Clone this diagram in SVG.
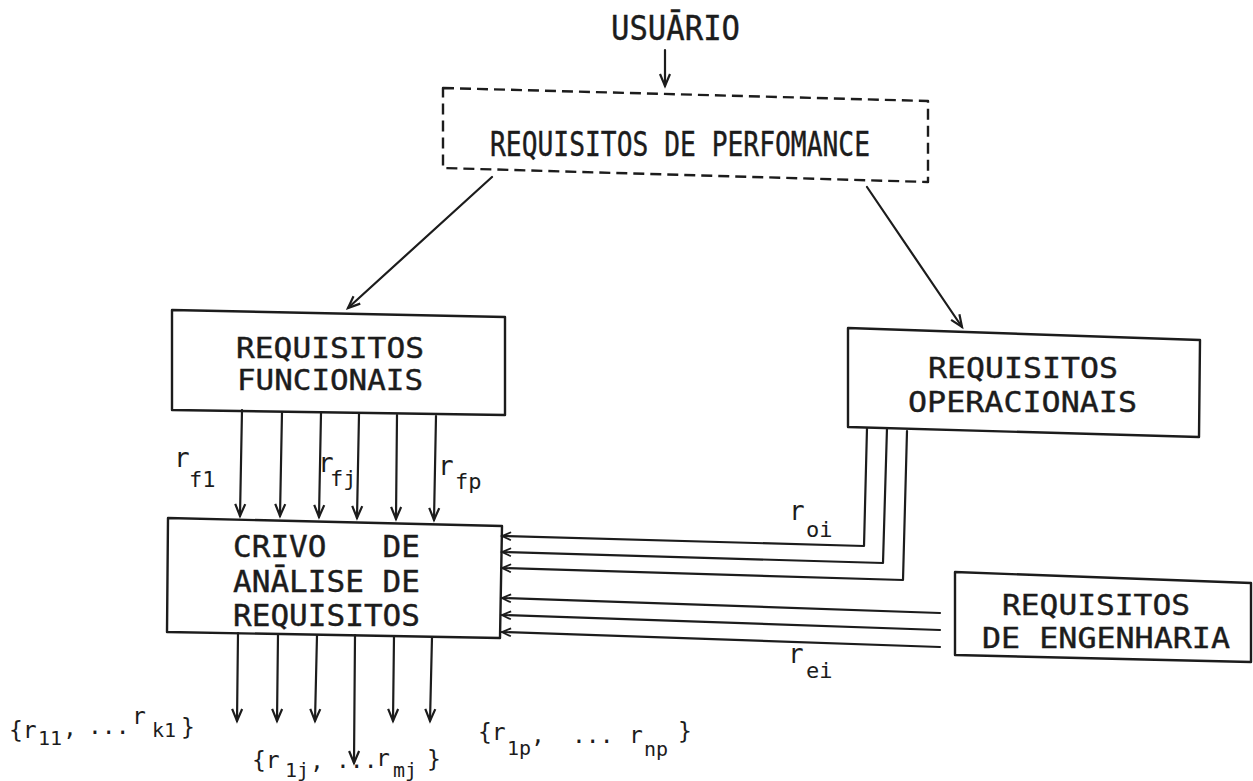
<svg xmlns="http://www.w3.org/2000/svg" width="1253" height="781" viewBox="0 0 1253 781">
<defs>
<style>
.bg{fill:#ffffff}
.box{fill:none;stroke:#1c1c1c;stroke-width:2.4;stroke-linejoin:round}
.dash{stroke-dasharray:11 6}
.ln{fill:none;stroke:#1c1c1c;stroke-width:2.2;stroke-linecap:round;stroke-linejoin:round}
.va{marker-end:url(#a)}
.ha{marker-end:url(#h)}
.t{font-family:"DejaVu Sans Mono","Liberation Mono",monospace;fill:#1c1c1c;stroke:#1c1c1c;stroke-width:0.4}
.r{font-family:"DejaVu Sans Mono","Liberation Mono",monospace;font-size:26px;fill:#1c1c1c}
.sub{font-size:22px}
.lb{font-family:"DejaVu Sans Mono","Liberation Mono",monospace;font-size:23px;fill:#1c1c1c}
.ls{font-size:20px}
</style>
<marker id="a" viewBox="-14 -7 16 14" refX="0" refY="0" markerWidth="16" markerHeight="14" markerUnits="userSpaceOnUse" orient="auto" overflow="visible">
<path d="M-12,-5 L0,0 L-12,5" fill="none" stroke="#1c1c1c" stroke-width="2.2"/>
</marker>
<marker id="h" viewBox="-10 -5 12 10" refX="0" refY="0" markerWidth="12" markerHeight="10" markerUnits="userSpaceOnUse" orient="auto" overflow="visible">
<path d="M-9,-4 L0,0 L-9,4" fill="none" stroke="#1c1c1c" stroke-width="1.8"/>
</marker>
</defs>
<rect class="bg" x="0" y="0" width="1253" height="781"/>

<g id="usuario">
<text class="t" x="611" y="40" font-size="33" textLength="129" lengthAdjust="spacingAndGlyphs">USUĀRIO</text>
</g>

<g id="perf">
<path class="box dash" d="M443,88 L928,101 L928,182 L443,168 Z"/>
<text class="t" x="490" y="156" font-size="34" textLength="380" lengthAdjust="spacingAndGlyphs">REQUISITOS DE PERFOMANCE</text>
</g>

<g id="func">
<path class="box" d="M172,310 L505,317 L505,415 L172,410 Z"/>
<text class="t" x="236" y="358" font-size="28" textLength="188" lengthAdjust="spacingAndGlyphs">REQUISITOS</text>
<text class="t" x="237" y="390" font-size="28" textLength="186" lengthAdjust="spacingAndGlyphs">FUNCIONAIS</text>
</g>

<g id="oper">
<path class="box" d="M848,328 L1200,340 L1199,437 L848,427 Z"/>
<text class="t" x="928" y="378" font-size="29" textLength="190" lengthAdjust="spacingAndGlyphs">REQUISITOS</text>
<text class="t" x="908" y="412" font-size="29" textLength="229" lengthAdjust="spacingAndGlyphs">OPERACIONAIS</text>
</g>

<g id="crivo">
<path class="box" d="M168,518 L502,526 L500,638 L167,632 Z"/>
<text class="t" x="233" y="557" font-size="30" textLength="187" lengthAdjust="spacingAndGlyphs" xml:space="preserve" style="white-space:pre">CRIVO   DE</text>
<text class="t" x="233" y="592" font-size="30" textLength="187" lengthAdjust="spacingAndGlyphs">ANĀLISE DE</text>
<text class="t" x="233" y="626" font-size="30" textLength="187" lengthAdjust="spacingAndGlyphs">REQUISITOS</text>
</g>

<g id="eng">
<path class="box" d="M955,572 L1251,583 L1251,662 L955,655 Z"/>
<text class="t" x="1002" y="615" font-size="28.5" textLength="188" lengthAdjust="spacingAndGlyphs">REQUISITOS</text>
<text class="t" x="982" y="648" font-size="28.5" textLength="248" lengthAdjust="spacingAndGlyphs">DE ENGENHARIA</text>
</g>

<g id="connectors">
<path class="ln va" d="M665,50 L665,86"/>
<path class="ln va" d="M492,177 L348,308"/>
<path class="ln va" d="M867,187 L962,327"/>

<path class="ln va" d="M242,410 L240,516"/>
<path class="ln va" d="M282,412 L280,516"/>
<path class="ln va" d="M321,413 L319,517"/>
<path class="ln va" d="M359,414 L357,518"/>
<path class="ln va" d="M397,415 L396,519"/>
<path class="ln va" d="M436,416 L434,520"/>

<path class="ln va" d="M238,633 L237,721"/>
<path class="ln va" d="M278,634 L277,721"/>
<path class="ln va" d="M317,635 L315,721"/>
<path class="ln va" d="M355,635 L354,763"/>
<path class="ln va" d="M394,636 L393,721"/>
<path class="ln va" d="M432,637 L430,721"/>

<path class="ln ha" d="M867,428 L864,546 L502,536"/>
<path class="ln ha" d="M887,428 L883,563 L502,552"/>
<path class="ln ha" d="M907,431 L903,580 L502,568"/>

<path class="ln ha" d="M940,613 L502,598"/>
<path class="ln ha" d="M940,630 L502,615"/>
<path class="ln ha" d="M940,647 L502,632"/>
</g>

<g id="labels">
<text class="r" x="174" y="467">r<tspan class="sub" x="189" y="487">f1</tspan></text>
<text class="r" x="318" y="472">r<tspan class="sub" x="330" y="486">fj</tspan></text>
<text class="r" x="438" y="475">r<tspan class="sub" x="455" y="489">fp</tspan></text>
<text class="r" x="789" y="520">r<tspan class="sub" x="806" y="537">oi</tspan></text>
<text class="r" x="788" y="663">r<tspan class="sub" x="806" y="678">ei</tspan></text>

<text class="lb"><tspan x="9" y="738">{r</tspan><tspan class="ls" x="38" y="745">11</tspan><tspan x="63" y="736">, </tspan><tspan x="88" y="734">...</tspan><tspan x="132" y="724">r</tspan><tspan class="ls" x="152" y="737">k1</tspan><tspan x="181" y="735">}</tspan></text>
<text class="lb"><tspan x="252" y="768">{r</tspan><tspan class="ls" x="285" y="777">1j</tspan><tspan x="310" y="769">, </tspan><tspan x="336" y="768">...</tspan><tspan x="376" y="766">r</tspan><tspan class="ls" x="393" y="777">mj</tspan><tspan x="427" y="767">}</tspan></text>
<text class="lb"><tspan x="478" y="740">{r</tspan><tspan class="ls" x="507" y="755">1p</tspan><tspan x="531" y="743">, </tspan><tspan x="572" y="743">... </tspan><tspan x="629" y="743">r</tspan><tspan class="ls" x="644" y="756">np</tspan><tspan x="678" y="739">}</tspan></text>
</g>
</svg>
